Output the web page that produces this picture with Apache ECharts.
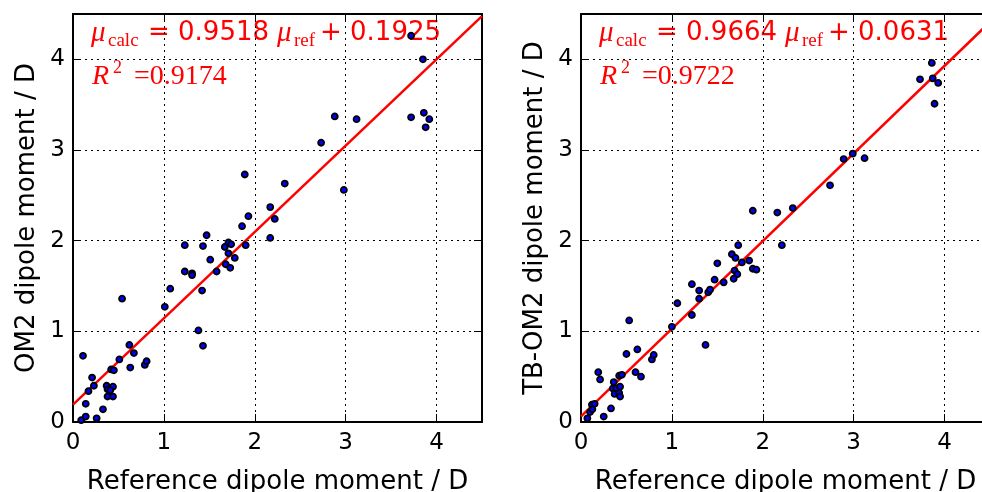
<!DOCTYPE html>
<html>
<head>
<meta charset="utf-8">
<script src="https://cdn.jsdelivr.net/npm/echarts@6/dist/echarts.min.js"></script>
<style>
  html, body { margin: 0; padding: 0; background: #fff; overflow: hidden; }
  #chart { width: 996px; height: 492px; }
</style>
</head>
<body>
<div id="chart"></div>
<script>
// left panel: OM2 vs reference
let refLeft = [0.09, 0.14, 0.26, 0.33, 0.14, 0.17, 0.11, 0.21, 0.23, 0.37, 0.38, 0.44, 0.38, 0.44, 0.41,
    0.42, 0.45, 0.51, 0.54, 0.62, 0.67, 0.63, 0.79, 0.81,
    1.01, 1.07, 1.23, 1.23, 1.31, 1.31, 1.38, 1.43, 1.42, 1.43, 1.47, 1.51, 1.58, 1.67, 1.71, 1.74,
    1.71, 1.68, 1.73, 1.78, 1.90, 1.86, 1.93, 2.17, 2.22, 2.17,
    1.89, 2.33, 2.73, 2.98, 2.88, 3.12, 3.72, 3.85, 3.72, 3.86, 3.92, 3.88];
let om2Calc = [0.02, 0.06, 0.04, 0.14, 0.20, 0.34, 0.73, 0.49, 0.40, 0.40, 0.36, 0.39, 0.28, 0.28, 0.35,
    0.58, 0.57, 0.69, 1.36, 0.85, 0.76, 0.60, 0.63, 0.67,
    1.27, 1.47, 1.66, 1.95, 1.64, 1.62, 1.01, 0.84, 1.45, 1.94, 2.06, 1.79, 1.66, 1.93, 1.98, 1.96,
    1.86, 1.74, 1.70, 1.81, 1.95, 2.16, 2.27, 2.37, 2.24, 2.03,
    2.73, 2.63, 3.08, 2.56, 3.37, 3.34, 4.26, 4.00, 3.36, 3.41, 3.34, 3.25];

// right panel: TB-OM2 vs reference
let refRight = [0.07, 0.10, 0.12, 0.15, 0.125, 0.25, 0.33, 0.19, 0.21, 0.36, 0.35, 0.37, 0.39, 0.42, 0.43,
    0.43, 0.42, 0.45, 0.50, 0.53, 0.62, 0.60, 0.66, 0.78, 0.80,
    1.00, 1.06, 1.22, 1.22, 1.30, 1.30, 1.37, 1.40, 1.42, 1.47, 1.50, 1.57, 1.66, 1.70, 1.73,
    1.69, 1.72, 1.68, 1.77, 1.85, 1.89, 1.93, 1.89, 2.16, 2.21,
    2.33, 2.74, 2.89, 2.99, 3.12, 3.73, 3.86, 3.87, 3.93, 3.89];
let tbCalc = [0.04, 0.11, 0.19, 0.20, 0.14, 0.06, 0.15, 0.55, 0.47, 0.44, 0.37, 0.31, 0.37, 0.32, 0.39,
    0.28, 0.51, 0.52, 0.75, 1.12, 0.80, 0.55, 0.50, 0.69, 0.74,
    1.05, 1.31, 1.18, 1.52, 1.45, 1.36, 0.85, 1.43, 1.46, 1.57, 1.75, 1.54, 1.85, 1.81, 1.95,
    1.67, 1.63, 1.58, 1.76, 1.78, 1.69, 1.68, 2.33, 2.31, 1.95,
    2.36, 2.61, 2.90, 2.96, 2.91, 3.78, 3.96, 3.79, 3.74, 3.51];

// fit coefficients [slope, intercept] and R^2
let fitLeft = [0.9518, 0.1925];
let fitRight = [0.9664, 0.0631];
let r2Left = '0.9174';
let r2Right = '0.9722';

let tickValues = [0, 1, 2, 3, 4];
let axisMax = 4.5;

function pairs(xs, ys) {
    let out = [];
    xs.forEach(function (v, i) {
        out.push([v, ys[i]]);
    });
    return out;
}
function fitLine(fit) {
    return [[0, fit[1]], [axisMax, fit[0] * axisMax + fit[1]]];
}

let sans = 'DejaVu Sans';
let serif = 'Liberation Serif';

function xAxisOf(grid, pos, name) {
    let main = pos === 'bottom';
    return {
        type: 'value', gridIndex: grid, position: pos,
        min: 0, max: axisMax, interval: 1,
        name: main ? name : '',
        nameLocation: 'middle', nameGap: 47,
        nameTextStyle: {color: '#000', fontFamily: sans, fontSize: 26},
        axisLine: {show: true, onZero: false, lineStyle: {color: '#000', width: 2}},
        axisTick: {show: true, inside: true, length: 8, lineStyle: {color: '#000', width: 1}},
        axisLabel: {
            show: main, color: '#000', fontFamily: sans, fontSize: 23, margin: 10,
            formatter: function (v) { return tickValues.indexOf(v) >= 0 ? String(v) : ''; }
        },
        splitLine: {show: main, lineStyle: {color: '#000', width: 1, type: [2, 4]}}
    };
}
function yAxisOf(grid, pos, name) {
    let main = pos === 'left';
    return {
        type: 'value', gridIndex: grid, position: pos,
        min: 0, max: axisMax, interval: 1,
        name: main ? name : '',
        nameLocation: 'middle', nameGap: 33,
        nameTextStyle: {color: '#000', fontFamily: sans, fontSize: 26},
        axisLine: {show: true, onZero: false, lineStyle: {color: '#000', width: 2}},
        axisTick: {show: true, inside: true, length: 8, lineStyle: {color: '#000', width: 1}},
        axisLabel: {
            show: main, color: '#000', fontFamily: sans, fontSize: 23, margin: 8,
            formatter: function (v) { return tickValues.indexOf(v) >= 0 ? String(v) : ''; }
        },
        splitLine: {show: main, lineStyle: {color: '#000', width: 1, type: [2, 4]}}
    };
}

function scatterOf(idx, data) {
    return {
        type: 'scatter', xAxisIndex: idx, yAxisIndex: idx, data: data,
        symbolSize: 6, z: 5,
        itemStyle: {color: '#0000ff', borderColor: '#000', borderWidth: 1.8, opacity: 1}
    };
}
function lineOf(idx, fit) {
    return {
        type: 'line', xAxisIndex: idx, yAxisIndex: idx, data: fitLine(fit),
        showSymbol: false, symbol: 'none', z: 3,
        lineStyle: {color: '#ff0000', width: 2.5}
    };
}

// equation text, placed relative to the panel's left edge
function label(x, y, text, font, size, italic) {
    return {
        type: 'text', x: x, y: y, silent: true,
        style: {
            text: text, fill: '#ff0000', fontFamily: font, fontSize: size,
            fontStyle: italic ? 'italic' : 'normal',
            textAlign: 'left', textVerticalAlign: 'middle', verticalAlign: 'middle'
        }
    };
}
function equation(left, fit, r2) {
    let d = left - 73;
    return [
        label(91 + d, 33, 'μ', serif, 29, true),
        label(108 + d, 41, 'calc', serif, 19, false),
        label(148 + d, 33, '= ' + fit[0].toFixed(4), sans, 26, false),
        label(277 + d, 33, 'μ', serif, 29, true),
        label(294 + d, 41, 'ref', serif, 19, false),
        label(320 + d, 33, '+ ' + fit[1].toFixed(4), sans, 26, false),
        label(92 + d, 77, 'R', serif, 28, true),
        label(113 + d, 68, '2', serif, 18, false),
        label(134 + d, 77, '=' + r2, serif, 28, false)
    ];
}

let chart = echarts.init(document.getElementById('chart'));
let option = {
    backgroundColor: '#fff',
    animation: false,
    grid: [
        {left: 73, top: 14, width: 409, height: 408, containLabel: false, outerBoundsMode: 'none'},
        {left: 581, top: 14, width: 409, height: 408, containLabel: false, outerBoundsMode: 'none'}
    ],
    xAxis: [
        xAxisOf(0, 'bottom', 'Reference dipole moment / D'),
        xAxisOf(0, 'top', ''),
        xAxisOf(1, 'bottom', 'Reference dipole moment / D'),
        xAxisOf(1, 'top', '')
    ],
    yAxis: [
        yAxisOf(0, 'left', 'OM2 dipole moment / D'),
        yAxisOf(0, 'right', ''),
        yAxisOf(1, 'left', 'TB-OM2 dipole moment / D'),
        yAxisOf(1, 'right', '')
    ],
    graphic: equation(73, fitLeft, r2Left).concat(equation(581, fitRight, r2Right)),
    series: [
        lineOf(0, fitLeft),
        scatterOf(0, pairs(refLeft, om2Calc)),
        lineOf(2, fitRight),
        scatterOf(2, pairs(refRight, tbCalc))
    ]
};
chart.setOption(option);
</script>
</body>
</html>
